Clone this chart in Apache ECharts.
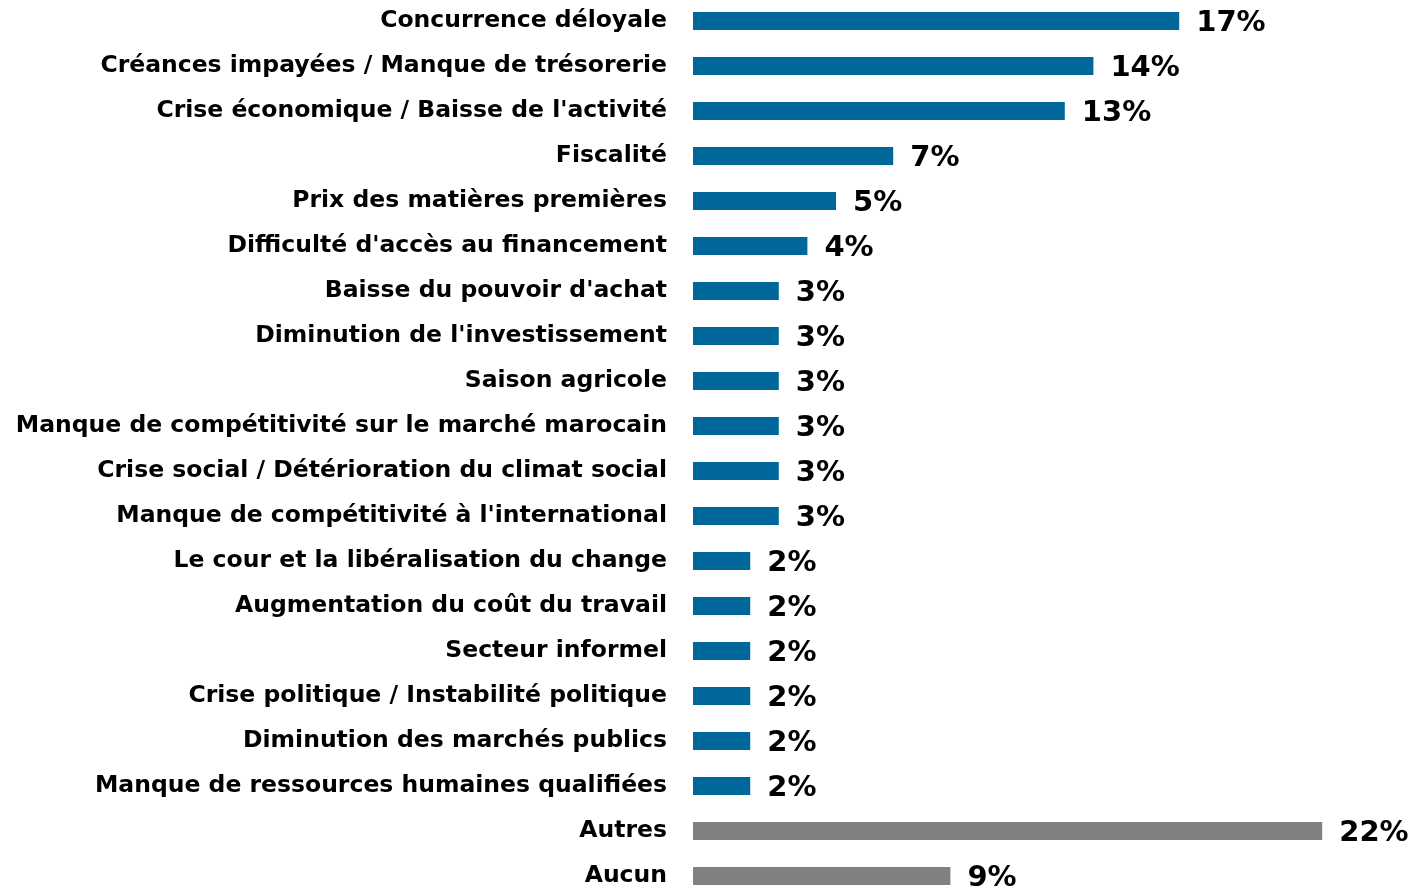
<!DOCTYPE html>
<html><head><meta charset="utf-8">
<script src="https://cdn.jsdelivr.net/npm/echarts@6/dist/echarts.min.js"></script>
<style>html,body{margin:0;padding:0;background:#fff}#c{width:1411px;height:887px}</style>
</head><body><div id="c"></div>
<script>
const categories = [
  "Concurrence déloyale",
  "Créances impayées / Manque de trésorerie",
  "Crise économique / Baisse de l'activité",
  "Fiscalité",
  "Prix des matières premières",
  "Difficulté d'accès au financement",
  "Baisse du pouvoir d'achat",
  "Diminution de l'investissement",
  "Saison agricole",
  "Manque de compétitivité sur le marché marocain",
  "Crise social / Détérioration du climat social",
  "Manque de compétitivité à l'international",
  "Le cour et la libéralisation du change",
  "Augmentation du coût du travail",
  "Secteur informel",
  "Crise politique / Instabilité politique",
  "Diminution des marchés publics",
  "Manque de ressources humaines qualifiées",
  "Autres",
  "Aucun"
];
const values = [17,14,13,7,5,4,3,3,3,3,3,3,2,2,2,2,2,2,22,9];
const grayCats = ["Autres","Aucun"];

const chart = echarts.init(document.getElementById('c'));
chart.setOption({
  animation:false,
  grid:{left:693, top:-1.5, width:715, height:900, containLabel:false, outerBoundsMode:'none'},
  xAxis:{type:'value', min:0, max:25, show:false},
  yAxis:{type:'category', inverse:true, data:categories,
    axisLine:{show:false}, axisTick:{show:false},
    axisLabel:{margin:26, color:'#000', fontFamily:'DejaVu Sans', fontWeight:'bold', fontSize:23.5,
      padding:[2,0,0,0]}},
  series:[{type:'bar', barWidth:18,
    data:values.map((v,i)=>({value:v, itemStyle:{color: grayCats.includes(categories[i]) ? '#808080' : '#00679A'}})),
    label:{show:true, position:'right', distance:17, formatter:'{c}%', color:'#000',
      fontFamily:'DejaVu Sans', fontWeight:'bold', fontSize:29, offset:[0,2]}
  }]
});
</script></body></html>
